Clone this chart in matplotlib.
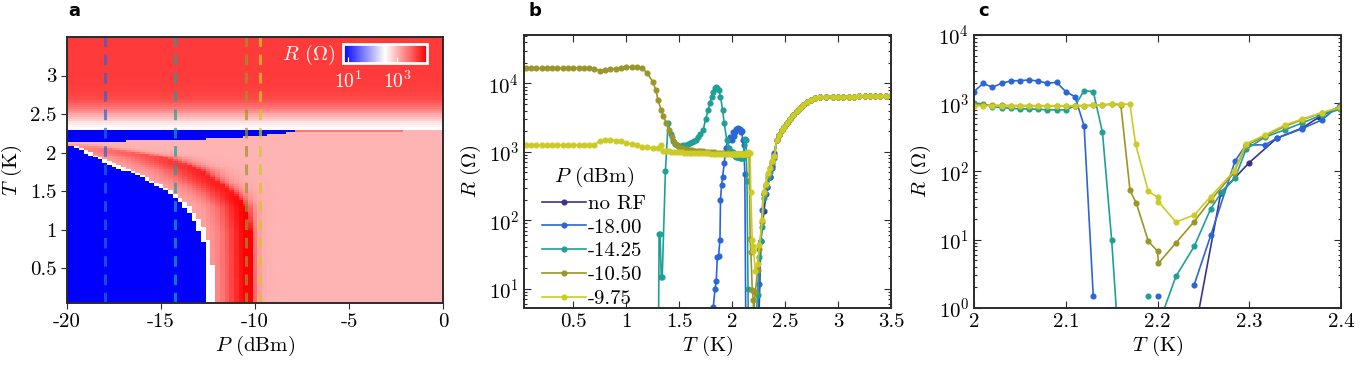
import numpy as np
import matplotlib
matplotlib.use('Agg')
import matplotlib.pyplot as plt
from matplotlib.colors import LogNorm
from matplotlib.ticker import FuncFormatter, LogLocator, NullFormatter

plt.rcParams['font.family'] = 'serif'
plt.rcParams['font.serif'] = ['cmr10']
plt.rcParams['mathtext.fontset'] = 'cm'
plt.rcParams['axes.unicode_minus'] = False
plt.rcParams['axes.formatter.use_mathtext'] = True

nan = np.nan

# ---- series (T in K, R in Ohm); nan = below zero / not shown ----
labels = ['no RF', '-18.00', '-14.25', '-10.50', '-9.75']
powers = [None, -18.00, -14.25, -10.50, -9.75]
colors = ['#3c328c', '#2a66d6', '#1fa096', '#9a9628', '#cccb26']

# normal-state tail, common to all curves
tail_T = [2.42, 2.44, 2.467, 2.49, 2.52, 2.55, 2.577, 2.61, 2.64, 2.67, 2.703, 2.74,
          2.78, 2.83, 2.89, 2.95, 3.0, 3.05, 3.1, 3.15, 3.2, 3.25, 3.3, 3.35, 3.4, 3.45, 3.5]
tail_R = [1480, 1750, 2070, 2300, 2600, 3000, 3440, 3900, 4310, 4900, 5380, 5800,
          6030, 6250, 6380, 6400, 6400, 6400, 6400, 6420, 6450, 6450, 6480, 6500, 6500, 6520, 6530]

norf_T = [2.24, 2.269, 2.30, 2.33, 2.357, 2.376, 2.399]
norf_R = [0.4, 49, 135, 308, 430, 624, 910]

m18_T = [1.80, 1.822, 1.838, 1.85, 1.86, 1.872, 1.885, 1.89, 1.90, 1.91, 1.925, 1.94, 1.96,
         1.98, 2.00, 2.01, 2.02, 2.03, 2.04, 2.05, 2.06, 2.07, 2.08, 2.09, 2.10, 2.11, 2.12,
         2.13, 2.14, 2.19, 2.20, 2.21, 2.24, 2.258, 2.2845, 2.2965, 2.317, 2.33, 2.357,
         2.379, 2.399]
m18_R = [1.0, 5.4, 9.7, 13, 29, 30, 52, 196, 325, 430, 675, 1120, 1480,
         1650, 1480, 1960, 1710, 1960, 2120, 2150, 2195, 2120, 1960, 2030, 1480, 1250, 466,
         1.48, nan, nan, 1.48, nan, 2.2, 11.6, 143, 245, 245, 308, 421,
         570, 946]

m14_T = [1.30, 1.31, 1.32, 1.33, 1.34, 1.37, 1.395, 1.42, 1.44, 1.46, 1.48, 1.50, 1.52,
         1.54, 1.56, 1.58, 1.60, 1.62, 1.64, 1.66, 1.68, 1.70, 1.727, 1.75, 1.774, 1.79,
         1.806, 1.82, 1.838, 1.85, 1.86, 1.875, 1.89, 1.91, 1.925, 1.95, 1.975, 2.00, 2.01,
         2.02, 2.03, 2.04, 2.05, 2.06, 2.07, 2.08, 2.09, 2.10, 2.11, 2.12, 2.13, 2.14, 2.15,
         2.16, 2.17, 2.19, 2.20, 2.205, 2.22, 2.24, 2.258, 2.27, 2.2845, 2.2965, 2.317,
         2.339, 2.357, 2.379, 2.399]
m14_R = [0.1, 62, 62, 15, 15, 520, 2600, 1800, 1450, 1300, 1250, 1220, 1230,
         1250, 1270, 1300, 1330, 1370, 1420, 1500, 1620, 1800, 2100, 3000, 4080, 5200,
         6380, 7500, 8470, 8800, 8700, 8000, 6400, 4100, 2600, 1480, 1150, 1000, 980,
         890, 865, 845, 826, 826, 817, 800, 800, 800, 914, 1530, 1480, 373, 10,
         0.1, nan, 1.48, nan, 0.8, 2.9, 8.0, 28.5, 50, 80, 212, 318,
         410, 510, 675, 817]

m105_T = [0.05, 0.10, 0.15, 0.20, 0.25, 0.30, 0.35, 0.40, 0.45, 0.50, 0.55, 0.60, 0.65,
          0.70, 0.75, 0.80, 0.85, 0.90, 0.95, 1.00, 1.05, 1.10, 1.15,
          1.20, 1.25, 1.28, 1.30, 1.33, 1.35, 1.38, 1.40, 1.43, 1.45,
          1.475, 1.50, 1.525, 1.55, 1.575, 1.60, 1.625, 1.65, 1.675, 1.70, 1.725, 1.75,
          1.775, 1.80, 1.825, 1.85, 1.875, 1.90, 1.925, 1.95, 1.975, 2.00,
          2.01, 2.02, 2.03, 2.04, 2.05, 2.06, 2.07, 2.08, 2.09, 2.10, 2.11, 2.12, 2.13, 2.14,
          2.15, 2.16, 2.17, 2.177, 2.19, 2.20, 2.201, 2.22, 2.24, 2.258, 2.283, 2.2965,
          2.317, 2.339, 2.357, 2.379, 2.399]
m105_R = [16600, 16800, 16600, 16800, 16700, 16600, 16700, 16800, 16700, 16800, 17000, 16900, 16800,
          16300, 15400, 15600, 16200, 16500, 17000, 17200, 17400, 17500, 16800,
          14000, 10600, 8000, 5700, 4100, 3300, 2600, 2080, 1660, 1400,
          1250, 1180, 1140, 1110, 1090, 1070, 1050, 1040, 1030, 1020, 1010, 1000,
          990, 985, 980, 975, 970, 965, 960, 955, 950, 940,
          935, 930, 930, 925, 925, 925, 920, 920, 920, 920, 920, 925, 930, 940,
          970, 945, 53, 34, 9.5, 6.8, 4.5, 9.0, 18.5, 38, 95, 240,
          330, 460, 570, 720, 860]

m975_T = [0.05, 0.10, 0.15, 0.20, 0.25, 0.30, 0.35, 0.40, 0.45, 0.50, 0.55, 0.60, 0.65, 0.70,
          0.75, 0.80, 0.85, 0.90, 0.95, 1.00, 1.05, 1.10, 1.15, 1.20, 1.25, 1.30, 1.33, 1.35,
          1.375, 1.40, 1.425, 1.45, 1.475, 1.50, 1.525, 1.55, 1.575, 1.60, 1.625, 1.65, 1.675,
          1.70, 1.725, 1.75, 1.775, 1.80, 1.825, 1.85, 1.875, 1.90, 1.925, 1.95, 1.975, 2.00,
          2.01, 2.02, 2.03, 2.04, 2.05, 2.06, 2.07, 2.08, 2.09, 2.10, 2.11, 2.12, 2.13, 2.14,
          2.15, 2.16, 2.17, 2.176, 2.19, 2.20, 2.201, 2.22, 2.24, 2.258, 2.283, 2.2965,
          2.317, 2.339, 2.357, 2.379, 2.399]
m975_R = [1250, 1240, 1250, 1250, 1245, 1250, 1250, 1245, 1250, 1250, 1250, 1255, 1250, 1260,
          1450, 1500, 1490, 1460, 1420, 1340, 1300, 1250, 1190, 1160, 1140, 1130, 1260, 1040,
          1020, 1010, 1000, 995, 990, 985, 980, 975, 970, 965, 962, 958, 955, 952,
          950, 948, 945, 942, 940, 938, 935, 932, 930, 928, 925, 922,
          918, 915, 915, 915, 915, 915, 915, 915, 915, 915, 918, 920, 930, 950,
          980, 975, 965, 254, 51, 42, 36, 18.2, 23, 43, 100, 254,
          343, 482, 583, 730, 873]

series_T = [norf_T, m18_T, m14_T, m105_T, m975_T]
series_R = [norf_R, m18_R, m14_R, m105_R, m975_R]

# ---- panel a map: boundaries and levels ----
sc_T = [0.05, 0.55, 0.80, 1.06, 1.31, 1.50, 1.69, 1.86, 2.00, 2.08]      # edge of SC region
sc_P = [-12.5, -12.55, -12.7, -13.1, -13.8, -14.7, -16.1, -17.9, -19.0, -19.6]
peak_T = [0.05, 0.97, 1.31, 1.48, 1.78, 1.95, 2.06, 2.12]                 # red ridge
peak_P = [-10.2, -10.25, -10.5, -11.17, -12.93, -15.05, -18.0, -19.6]
peak_R = [17000, 17000, 15000, 11000, 8800, 5000, 2200, 1000]
peak_WL = [1.4, 1.4, 1.5, 1.8, 2.2, 2.4, 2.4, 2.4]                       # ridge width left, dBm
peak_WR = [0.22, 0.22, 0.3, 0.45, 0.6, 0.7, 0.7, 0.7]                    # ridge width right, dBm
band_P = [-20, -18, -15, -12, -10, -8.5, -7.5]                           # blue strip below Tc
band_T = [2.14, 2.145, 2.16, 2.18, 2.21, 2.245, 2.27]
T_upper = 2.29
map_top_T = [2.29, 2.33, 2.40, 2.50, 2.60, 2.70, 2.80, 3.00, 3.50]       # normal state in map
map_top_R = [300, 320, 500, 1200, 3000, 5000, 6000, 6400, 6500]
line_P = [-8.0, -2.0]                                                    # faint red line at Tc
line_T = 2.275

P_grid = np.arange(-20, 0.01, 0.25)
T_grid = np.arange(0.05, 3.51, 0.025)
PP, TT = np.meshgrid(P_grid, T_grid)

sc_lim = np.interp(TT, sc_T, sc_P)
pk_P = np.interp(TT, peak_T, peak_P)
pk_L = np.log10(np.interp(TT, peak_T, peak_R))
wl = np.interp(TT, peak_T, peak_WL)
wr = np.interp(TT, peak_T, peak_WR)
edge_L, right_L = np.log10(1200), 3.0
logR = np.where(PP < pk_P,
                edge_L + (pk_L - edge_L) * np.exp(-((pk_P - PP) / wl)**2),
                right_L + (pk_L - right_L) * np.exp(-(PP - pk_P) / wr))
logR[TT > peak_T[-1]] = right_L
low = TT <= sc_T[-1]
logR[low & (PP >= sc_lim) & (PP < sc_lim + 0.3)] = 2.5
logR[low & (PP < sc_lim)] = 0.3
bl = np.interp(PP, band_P, band_T)
logR[(TT >= bl) & (TT < T_upper) & (PP <= band_P[-1])] = 0.3
logR[(np.abs(TT - line_T) < 0.01) & (PP > line_P[0]) & (PP < line_P[1])] = 3.4
top = TT >= T_upper
logR[top] = np.log10(np.interp(TT[top], map_top_T, map_top_R))
R_map = 10**logR

norm = LogNorm(10**0.8, 10**4.2)
fs = 15
dark = '#2b2b2b'

fig = plt.figure(figsize=(13.63, 3.65), dpi=100)
axa = fig.add_axes([0.0492, 0.1699, 0.2759, 0.7288])
axb = fig.add_axes([0.3844, 0.1562, 0.2693, 0.7479])
axc = fig.add_axes([0.7146, 0.1562, 0.2693, 0.7479])

g = FuncFormatter(lambda v, p: '%g' % v)

# a
mesh = axa.pcolormesh(P_grid, T_grid, R_map, cmap='bwr', norm=norm, shading='nearest',
                      rasterized=True)
for p, c in zip(powers[1:], colors[1:]):
    axa.axvline(p, color=c, alpha=0.7, lw=2.2, dashes=(3.5, 2.5))
axa.set_xlim(-20, 0)
axa.set_ylim(0.05, 3.5)
axa.set_xticks([-20, -15, -10, -5, 0])
axa.set_yticks([0.5, 1, 1.5, 2, 2.5, 3])
axa.xaxis.set_major_formatter(g)
axa.yaxis.set_major_formatter(g)
axa.tick_params(direction='out', length=4, width=0.8, labelsize=fs, color=dark)
axa.set_xlabel(r'$P$ (dBm)', fontsize=fs, labelpad=2)
axa.set_ylabel(r'$T$ (K)', fontsize=fs, labelpad=4)
cax = axa.inset_axes([0.734, 0.901, 0.223, 0.0715])
cb = fig.colorbar(mesh, cax=cax, orientation='horizontal', ticks=[10, 1000])
cb.outline.set_edgecolor('white')
cb.outline.set_linewidth(2)
cax.tick_params(which='both', direction='in', color='white', labelcolor='white',
                labelsize=14, width=0.8, pad=5)
cax.tick_params(which='major', length=4)
cax.tick_params(which='minor', length=2.5)
axa.text(0.715, 0.932, r'$R$ ($\Omega$)', transform=axa.transAxes, color='white',
         fontsize=fs, ha='right', va='center')

# b, c
for ax in (axb, axc):
    for T, R, c, lab in zip(series_T, series_R, colors, labels):
        ax.plot(T + tail_T, R + tail_R, '-o', color=c, lw=1.2, ms=3.4, label=lab)
    ax.set_yscale('log')
    ax.yaxis.set_minor_locator(LogLocator(base=10, subs=np.arange(2, 10), numticks=20))
    ax.yaxis.set_minor_formatter(NullFormatter())
    ax.tick_params(which='both', direction='in', top=True, right=True, width=0.8,
                   labelsize=fs, color=dark)
    ax.tick_params(which='major', length=5)
    ax.tick_params(which='minor', length=2.5)
    ax.xaxis.set_major_formatter(g)
    ax.set_xlabel(r'$T$ (K)', fontsize=fs, labelpad=2)
    ax.set_ylabel(r'$R$ ($\Omega$)', fontsize=fs, labelpad=4)

axb.set_xlim(0.034, 3.5)
axb.set_ylim(5.2, 5.1e4)
axb.set_xticks([0.5, 1, 1.5, 2, 2.5, 3, 3.5])
leg = axb.legend(loc='lower left', bbox_to_anchor=(0.05, 0.0), frameon=False,
                 fontsize=fs, title=r'$P$ (dBm)', title_fontsize=fs, handlelength=2.1,
                 handletextpad=0.1, labelspacing=0.25, borderpad=0, borderaxespad=0)

axc.set_xlim(2, 2.4)
axc.set_ylim(1, 1e4)
axc.set_xticks([2, 2.1, 2.2, 2.3, 2.4])

for ax in (axa, axb, axc):
    for s in ax.spines.values():
        s.set_linewidth(1.4)
        s.set_color(dark)

for x, lab in [(0.0499, 'a'), (0.3874, 'b'), (0.7176, 'c')]:
    fig.text(x, 0.955, lab, fontsize=13, fontweight='bold', family='DejaVu Sans',
             va='baseline')

fig.savefig('out.png', dpi=100)
